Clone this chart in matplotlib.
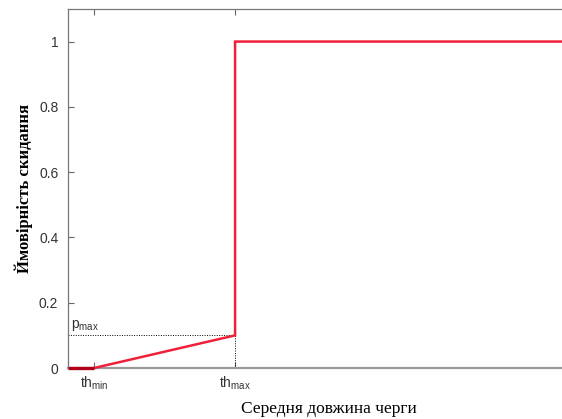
import matplotlib
matplotlib.use("Agg")
import matplotlib.pyplot as plt

# RED drop probability curve
th_min = 1.0
th_max = 6.4
p_max = 0.1
x_end = 20.0

x_low = [0.0, th_min]
y_low = [0.0, 0.0]
x_curve = [th_min, th_max, th_max, x_end]
y_curve = [0.0, p_max, 1.0, 1.0]

y_ticks = [0, 0.2, 0.4, 0.6, 0.8, 1]
y_tick_labels = ["0", "0.2", "0.4", "0.6", "0.8", "1"]
x_ticks = [th_min, th_max]
x_tick_labels = [r"th$_{\mathregular{min}}$", r"th$_{\mathregular{max}}$"]

plt.rcParams["font.family"] = ["Liberation Sans", "DejaVu Sans"]
plt.rcParams["mathtext.default"] = "regular"

fig = plt.figure(figsize=(5.62, 4.19), dpi=100)
ax = fig.add_axes([0.121, 0.1217, 0.929, 0.857])

ax.plot(x_low, y_low, color="#b0001a", lw=2.4, solid_capstyle="butt",
        clip_on=False, zorder=5)
ax.plot(x_curve, y_curve, color="#f0203a", lw=1.8, solid_joinstyle="miter",
        clip_on=False, zorder=4)

# dotted guides
ax.plot([0, th_max], [p_max, p_max], color="black", lw=0.7, ls=(0, (1, 1.5)))
ax.plot([th_max, th_max], [0, p_max], color="black", lw=0.7, ls=(0, (1, 1.5)))
ax.text(0.1, p_max + 0.008, r"p$_{\mathregular{max}}$", fontsize=10,
        color="#333333", va="bottom", ha="left")

ax.set_xlim(0, x_end)
ax.set_ylim(0, 1.1)
ax.set_yticks(y_ticks)
ax.set_yticklabels(y_tick_labels)
ax.set_xticks(x_ticks)
ax.set_xticklabels(x_tick_labels)

ax.tick_params(axis="both", direction="in", length=4, width=0.8, color="#666666",
               labelsize=10, labelcolor="#333333")
ax.tick_params(axis="x", top=True, pad=5)
ax.tick_params(axis="y", pad=7)

for side in ["left", "top"]:
    ax.spines[side].set_color("#777777")
    ax.spines[side].set_linewidth(0.9)
ax.spines["bottom"].set_color("#999999")
ax.spines["bottom"].set_linewidth(1.6)
ax.spines["right"].set_visible(False)

ax.set_ylabel("Ймовірність скидання", family=["Liberation Serif", "DejaVu Serif"],
              fontweight="bold", fontsize=12, labelpad=4)
ax.set_xlabel("Середня довжина черги", family=["Liberation Serif", "DejaVu Serif"],
              fontsize=12.5, labelpad=6)

fig.savefig("out.png", dpi=100)
